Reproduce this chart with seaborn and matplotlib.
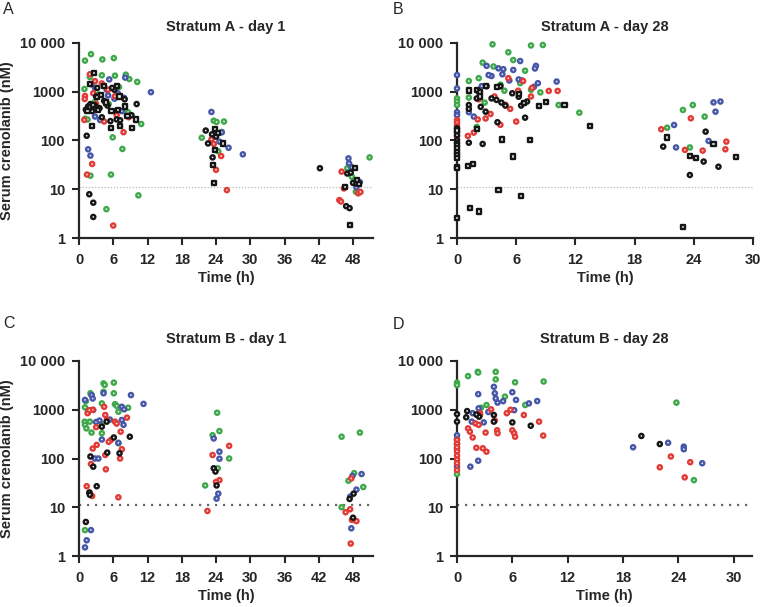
import pandas as pd
import seaborn as sns
import matplotlib.pyplot as plt
from matplotlib.ticker import NullLocator

# (time h, serum crenolanib nM), one list per colour/marker group

# Stratum A - day 1
A1_GREEN = [(1.05, 4350), (2.1, 5900), (4.1, 4600), (6.1, 4900), (1.9, 2000), (4.0, 2180), (6.3, 2140),
            (8.2, 2240), (8.8, 1820), (10.2, 1590), (0.95, 1140), (1.05, 280), (1.5, 270), (8.6, 380),
            (10.9, 218), (5.9, 116), (7.6, 67), (2.0, 19), (5.6, 20), (10.4, 7.5), (4.8, 3.9), (3.4, 880),
            (5.2, 560), (7.0, 1250), (2.8, 620),
            (23.6, 255), (25.4, 245), (24.1, 240), (21.5, 114), (25.0, 150), (24.4, 60),
            (50.9, 45), (47.0, 27), (47.5, 30), (48.5, 8.9), (48.9, 8.3), (47.8, 18)]
A1_BLUE = [(5.3, 1790), (8.1, 1950), (12.6, 980), (2.2, 1420), (2.8, 1200), (4.85, 1100), (6.8, 930),
           (7.9, 750), (5.1, 840), (6.2, 720), (3.4, 460), (3.7, 263), (1.6, 66), (2.0, 49), (7.5, 400),
           (2.8, 310),
           (23.2, 385), (25.0, 147), (26.2, 71), (28.7, 52), (24.6, 95),
           (47.2, 43), (47.3, 34), (49.2, 14), (48.6, 11), (47.8, 28)]
A1_RED = [(1.9, 2280), (2.8, 1650), (1.05, 820), (1.0, 710), (2.5, 930), (4.0, 1480), (6.3, 810),
          (0.93, 264), (4.4, 245), (7.8, 148), (2.3, 33), (1.4, 20), (6.0, 1.8), (5.1, 1100), (3.0, 560),
          (6.6, 330), (8.7, 300), (4.8, 600),
          (23.2, 106), (24.9, 48), (24.0, 25), (25.9, 9.6), (23.6, 85),
          (46.0, 23), (46.4, 10.4), (45.6, 6.0), (45.9, 5.6), (48.9, 8.3), (49.3, 8.8)]
A1_BLACK = [(10.1, 560), (1.35, 125), (1.8, 7.9), (2.5, 5.3), (2.5, 2.7), (1.2, 430), (1.6, 500),
            (2.0, 560), (2.3, 400), (3.0, 800), (3.2, 1200), (4.0, 300), (4.4, 650), (5.0, 520),
            (5.5, 250), (6.2, 1100), (6.6, 270), (7.2, 260), (8.0, 700), (8.7, 320), (9.2, 330),
            (2.8, 520), (3.6, 460), (5.8, 1200),
            (22.2, 160), (23.3, 134), (24.0, 120), (22.6, 87), (23.4, 45),
            (42.2, 27), (47.0, 21), (47.6, 22), (48.0, 13.5), (48.6, 13), (46.8, 4.5), (47.4, 4.1)]
A1_BLACK_SQ = [(2.7, 2400), (1.9, 1420), (4.4, 1320), (6.6, 1300), (7.1, 800), (3.1, 770), (2.0, 490),
               (3.4, 420), (5.7, 410), (6.8, 425), (2.3, 200), (5.6, 182), (7.2, 198), (9.3, 177),
               (10.0, 270), (8.5, 316), (1.5, 400), (4.8, 600), (8.0, 500), (2.5, 530), (3.8, 850),
               (23.8, 172), (25.2, 87), (23.8, 64), (23.5, 31.5), (23.7, 13.7), (24.3, 140),
               (48.3, 27), (48.7, 15.5), (46.6, 11.3), (47.4, 1.85), (49.0, 13)]

# Stratum A - day 28
A28_GREEN = [(0, 730), (0, 630), (0, 535), (3.6, 9400), (7.5, 8900), (8.7, 9100), (5.2, 6450),
             (5.7, 4470), (2.6, 3960), (3.7, 3300), (6.9, 2700), (2.2, 1900), (1.2, 1660), (8.45, 970),
             (10.3, 535), (12.4, 372), (6.4, 1500), (4.4, 1400), (7.5, 1100), (1.2, 760), (2.0, 190),
             (2.8, 600), (4.8, 1050),
             (22.9, 423), (23.9, 535), (25.1, 309), (21.3, 183), (23.6, 72)]
A28_BLUE = [(0, 2200), (0, 1170), (0, 380), (0, 330), (6.4, 4270), (3.0, 3400), (4.2, 3020), (3.5, 2100),
            (4.6, 2280), (8.0, 3400), (7.9, 3000), (5.7, 2800), (3.2, 2200), (6.25, 1790), (10.1, 1620),
            (7.8, 1260), (4.7, 2900), (2.5, 1300), (1.2, 380), (1.7, 310), (8.2, 1500), (6.6, 1700),
            (5.3, 1700),
            (26.0, 605), (26.7, 630), (26.2, 390), (22.0, 208), (25.5, 98), (22.2, 72)]
A28_RED = [(0, 263), (0, 235), (0, 200), (0, 120), (5.2, 1900), (6.7, 1660), (9.3, 1040), (10.2, 1040),
           (1.1, 124), (1.7, 145), (2.9, 283), (2.1, 270), (4.4, 210), (5.4, 445), (6.0, 245), (3.4, 350),
           (4.9, 540), (7.5, 800), (2.2, 700), (3.8, 800), (6.2, 1050), (7.6, 1200),
           (23.7, 285), (20.7, 170), (27.3, 95), (23.1, 64), (24.9, 62), (27.2, 66)]
A28_BLACK = [(0, 178), (0, 152), (0, 129), (0, 102), (0, 90), (1.2, 535), (1.2, 445), (2.0, 730),
             (2.4, 490), (2.9, 390), (3.5, 730), (4.0, 680), (4.5, 600), (4.9, 520), (5.6, 930),
             (6.25, 790), (6.5, 520), (7.1, 630), (6.9, 294), (4.1, 237), (1.2, 90), (2.6, 85),
             (3.0, 1300), (4.4, 1300), (2.2, 1000),
             (25.2, 152), (20.9, 75), (25.0, 37), (26.5, 29), (23.6, 19.6)]
A28_BLACK_SQ = [(0, 81), (0, 69), (0, 59), (0, 50), (0, 43), (0, 29), (0, 27), (0, 2.6), (0, 160),
                (10.9, 535), (9.0, 625), (8.3, 510), (6.8, 580), (2.0, 1090), (1.2, 1060), (2.3, 1000),
                (2.9, 1300), (4.05, 1260), (2.0, 170), (4.6, 105), (7.4, 102), (5.7, 47), (1.1, 30),
                (1.6, 32.5), (4.2, 9.6), (6.5, 7.4), (1.35, 4.1), (2.2, 3.5), (13.5, 199), (2.3, 800),
                (6.3, 900),
                (21.3, 115), (26.0, 85), (23.6, 49), (24.2, 43), (28.3, 45), (22.9, 1.7)]

# Stratum B - day 1
B1_GREEN = [(4.3, 3470), (4.5, 3240), (6.1, 3600), (2.2, 2000), (2.0, 2180), (4.3, 2340), (6.1, 2180),
            (1.05, 1120), (4.0, 1350), (6.3, 1300), (6.6, 1200), (8.6, 1100), (6.9, 910), (1.0, 570),
            (1.05, 490), (1.3, 415), (1.9, 570), (2.2, 340), (4.0, 330), (4.0, 500), (6.9, 205),
            (1.05, 3.4), (1.2, 1500),
            (24.2, 870), (23.4, 300), (24.6, 365), (26.3, 100), (24.3, 63), (22.1, 28),
            (46.0, 280), (49.2, 340), (48.2, 50), (47.2, 35), (49.8, 26), (46.0, 10)]
B1_BLUE = [(1.05, 1590), (2.2, 2000), (4.3, 2180), (9.1, 2000), (11.3, 1320), (2.5, 990), (5.4, 630),
           (7.5, 1150), (7.9, 1020), (7.5, 615), (3.0, 560), (3.6, 600), (7.8, 490), (4.0, 245),
           (6.9, 210), (2.8, 100), (3.4, 100), (2.1, 3.4), (1.35, 2.1), (1.05, 1.5), (1.6, 900),
           (2.4, 1700),
           (23.6, 258), (24.6, 138), (24.6, 99), (24.4, 19), (24.1, 15),
           (49.5, 48), (47.9, 44), (48.6, 23), (47.5, 16.5), (47.7, 3.7)]
B1_RED = [(1.5, 850), (4.4, 1150), (4.6, 780), (4.9, 620), (8.4, 690), (6.3, 570), (7.3, 355), (5.6, 240),
          (5.2, 220), (3.1, 190), (2.4, 160), (7.5, 155), (7.2, 100), (4.6, 118), (2.1, 77), (4.7, 60),
          (1.35, 27), (2.3, 17), (6.9, 16), (1.9, 20), (2.4, 1000), (6.6, 520), (3.0, 440), (1.8, 980),
          (26.3, 182), (23.4, 118), (24.6, 36), (24.0, 33), (22.5, 8.4),
          (47.7, 39), (46.7, 7.9), (47.5, 9.1), (47.8, 5.5), (48.6, 5.2), (47.6, 1.8)]
B1_BLACK = [(4.0, 450), (4.85, 570), (6.1, 270), (8.9, 280), (4.95, 132), (7.1, 128), (2.0, 110),
            (2.5, 68), (3.1, 27), (1.8, 20), (1.9, 18), (1.2, 5.0),
            (23.6, 63), (23.9, 54), (24.1, 28),
            (47.4, 14.8), (48.1, 19), (48.0, 6.1)]

# Stratum B - day 28
B28_GREEN = [(0, 3600), (0, 3200), (1.2, 4900), (2.25, 6000), (2.3, 5800), (4.2, 6000), (4.2, 4200),
             (6.3, 3650), (9.4, 3800), (5.2, 1860), (3.2, 1250), (7.4, 1250), (2.6, 1100), (0, 48),
             (23.8, 1400), (25.7, 36)]
B28_BLUE = [(0, 300), (0, 250), (0, 200), (0, 160), (0, 68), (4.0, 2950), (4.1, 2180), (4.2, 1700),
            (4.4, 1400), (2.3, 2090), (6.0, 2290), (6.4, 1590), (7.8, 1350), (8.7, 1510), (2.35, 1070),
            (1.7, 850), (6.2, 980), (2.9, 550), (1.6, 570), (2.3, 90), (1.45, 68), (5.0, 1500), (3.4, 900),
            (19.1, 170), (22.9, 210), (24.6, 175), (24.6, 155), (26.6, 80)]
B28_RED = [(0, 240), (0, 200), (0, 170), (0, 140), (0, 115), (0, 95), (0, 80), (0, 58), (3.7, 1020),
           (2.5, 850), (5.4, 850), (5.8, 1000), (7.25, 780), (8.9, 570), (1.2, 415), (1.4, 355), (1.7, 270),
           (2.0, 525), (2.35, 490), (3.1, 340), (4.35, 380), (4.4, 330), (6.0, 380), (6.2, 330), (6.3, 280),
           (9.35, 295), (2.1, 166), (2.8, 162), (3.2, 138), (4.1, 600), (2.5, 780),
           (23.2, 110), (22.0, 66), (25.3, 84), (24.7, 41)]
B28_BLACK = [(0, 815), (0, 570), (1.1, 940), (2.2, 780), (1.0, 700), (2.4, 720), (4.0, 780), (4.0, 570),
             (6.0, 550), (8.0, 470), (2.1, 800), (20.0, 290), (22.0, 198)]

Y_TICKS = [1, 10, 100, 1000, 10000]
Y_LABELS = ['1', '10', '100', '1000', '10 000']
LLOQ = 11

PANELS = [
    ('A', 'Stratum A - day 1', [A1_GREEN, A1_BLUE, A1_RED, A1_BLACK, A1_BLACK_SQ], list(range(0, 49, 6)), 51.5),
    ('B', 'Stratum A - day 28', [A28_GREEN, A28_BLUE, A28_RED, A28_BLACK, A28_BLACK_SQ], list(range(0, 31, 6)), 30),
    ('C', 'Stratum B - day 1', [B1_GREEN, B1_BLUE, B1_RED, B1_BLACK, []], list(range(0, 49, 6)), 51.5),
    ('D', 'Stratum B - day 28', [B28_GREEN, B28_BLUE, B28_RED, B28_BLACK, []], list(range(0, 31, 6)), 32),
]
GROUPS = ['green', 'blue', 'red', 'black', 'black_sq']
palette = {'green': '#3ea84a', 'blue': '#4656a8', 'red': '#e23a35', 'black': '#151515', 'black_sq': '#151515'}
markers = {'green': 'o', 'blue': 'o', 'red': 'o', 'black': 'o', 'black_sq': 's'}

sns.set_style('ticks')
plt.rcParams['font.family'] = ['Liberation Sans', 'DejaVu Sans']
plt.rcParams['font.weight'] = 'bold'

fig = plt.figure(figsize=(7.6, 6.07), dpi=100)
W, H = 760, 607
# axes boxes in pixels: left, top, right, bottom
boxes = {'A': (79, 43, 373, 238), 'B': (457, 43, 753, 238),
         'C': (79, 361, 373, 556), 'D': (457, 361, 752, 556)}
letter_pos = {'A': (3, 10), 'B': (393, 10), 'C': (3, 323), 'D': (393, 325)}
title_pad = {'A': 8.5, 'B': 8.5, 'C': 13, 'D': 13}

for letter, title, groups, xticks, xmax in PANELS:
    l, t, r, b = boxes[letter]
    ax = fig.add_axes([l / W, 1 - b / H, (r - l) / W, (b - t) / H])

    rows = []
    for name, pts in zip(GROUPS, groups):
        for x, y in pts:
            rows.append({'t': x, 'v': y, 'g': name})
    df = pd.DataFrame(rows)

    # lower limit of quantification
    if letter in ('A', 'B'):
        ax.axhline(LLOQ, color='#b8b8b8', lw=0.9, ls=(0, (1, 1.5)), zorder=1)
    else:
        ax.axhline(LLOQ, color='#6a6a6a', lw=1.6, ls=(0, (1, 2.6)), zorder=1)

    sns.scatterplot(data=df, x='t', y='v', hue='g', style='g', palette=palette, markers=markers,
                    s=9, linewidth=1.7, legend=False, ax=ax, clip_on=False, zorder=3)
    # hollow rings: coloured edge, small light centre
    for coll in ax.collections:
        fc = coll.get_facecolors()
        coll.set_edgecolors(fc)
        coll.set_facecolors('#f2f2f2')
        coll.set_linewidths(1.7)

    ax.set_yscale('log')
    ax.set_ylim(1, 10000)
    ax.set_yticks(Y_TICKS)
    ax.set_yticklabels(Y_LABELS)
    ax.yaxis.set_minor_locator(NullLocator())
    ax.set_xlim(0, xmax)
    ax.set_xticks(xticks)

    for side in ('top', 'right'):
        ax.spines[side].set_visible(False)
    for side in ('left', 'bottom'):
        ax.spines[side].set_linewidth(1.6)
    ax.tick_params(axis='both', direction='out', length=5, width=1.5, labelsize=10.5)
    ax.tick_params(axis='x', pad=6)
    ax.tick_params(axis='y', pad=5)
    for lab in ax.get_xticklabels() + ax.get_yticklabels():
        lab.set_fontweight('bold')

    ax.set_xlabel('Time (h)', fontsize=10.5, fontweight='bold', labelpad=3)
    if letter in ('A', 'C'):
        ax.set_ylabel('Serum crenolanib (nM)', fontsize=10.5, fontweight='bold')
        ax.yaxis.set_label_coords(-0.222, 0.5)
    else:
        ax.set_ylabel('')
    ax.set_title(title, fontsize=10.5, fontweight='bold', pad=title_pad[letter])

    lx, ly = letter_pos[letter]
    fig.text(lx / W, 1 - ly / H, letter, fontsize=11.5, fontweight='normal', va='center', ha='left')

fig.savefig('out.png', dpi=100)
